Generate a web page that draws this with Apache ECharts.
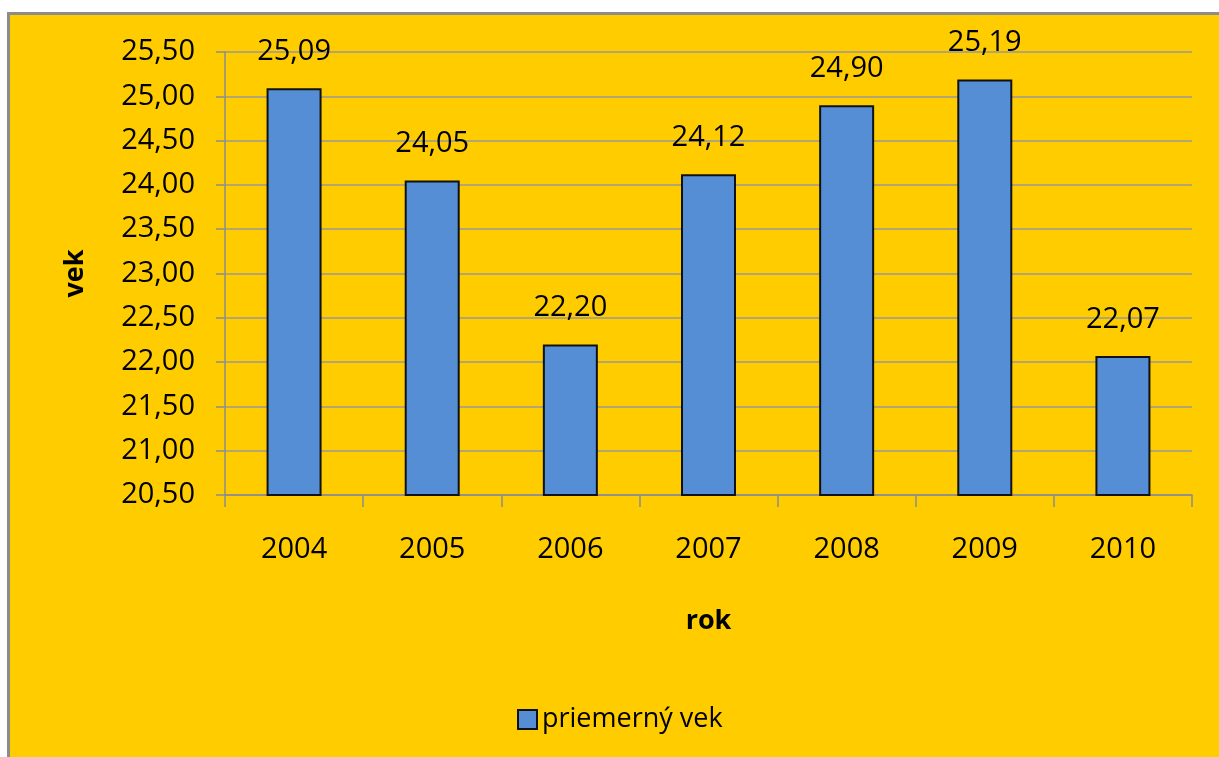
<!DOCTYPE html>
<html>
<head>
<meta charset="utf-8">
<script src="https://cdn.jsdelivr.net/npm/echarts@6/dist/echarts.min.js"></script>
<style>
  html, body { margin: 0; padding: 0; background: #ffffff; }
  #main {
    position: absolute; left: 7px; top: 12px;
    width: 1212px; height: 745px;
    box-sizing: border-box;
    background: #FFCC00;
    border-left: 3px solid #8c8c8c;
    border-top: 3px solid #8c8c8c;
  }
</style>
</head>
<body>
<div id="main"></div>
<script>
// data
var years = ['2004', '2005', '2006', '2007', '2008', '2009', '2010'];
var avgAge = [25.09, 24.05, 22.20, 24.12, 24.90, 25.19, 22.07];
var seriesName = 'priemerný vek';

var FONT = '"Open Sans", sans-serif';
var FS = 29;
function comma(v) { return Number(v).toFixed(2).replace('.', ','); }

var chartDom = document.getElementById('main');
var myChart = echarts.init(chartDom);
var option = {
  backgroundColor: 'transparent',
  textStyle: { fontFamily: FONT, color: '#000' },
  grid: { left: 215, right: 27, top: 37, bottom: 262 },
  legend: {
    data: [seriesName],
    icon: 'rect',
    left: 502, top: 686,
    itemWidth: 19, itemHeight: 19,
    itemGap: 8,
    textStyle: { fontFamily: FONT, fontSize: 27, color: '#000' }
  },
  xAxis: {
    type: 'category',
    data: years,
    name: 'rok',
    nameLocation: 'middle',
    nameGap: 113,
    nameTextStyle: { fontFamily: FONT, fontSize: 27, fontWeight: 'bold', color: '#000' },
    axisLine: { lineStyle: { color: '#8c8c8c', width: 1.5 } },
    axisTick: { show: true, length: 12, lineStyle: { color: '#8c8c8c', width: 1.5 } },
    axisLabel: { margin: 40, fontFamily: FONT, fontSize: FS, color: '#000' }
  },
  yAxis: {
    type: 'value',
    min: 20.5,
    max: 25.5,
    interval: 0.5,
    name: 'vek',
    nameLocation: 'middle',
    nameGap: 136,
    nameRotate: 90,
    nameTextStyle: { fontFamily: FONT, fontSize: 27, fontWeight: 'bold', color: '#000' },
    axisLine: { show: true, lineStyle: { color: '#8c8c8c', width: 1.5 } },
    axisTick: { show: true, length: 9, lineStyle: { color: '#8c8c8c', width: 1.5 } },
    splitLine: { lineStyle: { color: '#999999', width: 1.5 } },
    axisLabel: {
      margin: 30, fontFamily: FONT, fontSize: FS, color: '#000',
      formatter: comma
    }
  },
  series: [
    {
      name: seriesName,
      type: 'bar',
      data: avgAge,
      barWidth: 55,
      itemStyle: { color: '#558ED5', borderColor: '#111111', borderWidth: 2 },
      label: {
        show: true, position: 'top', distance: 22,
        fontFamily: FONT, fontSize: FS, color: '#000',
        formatter: function (p) { return comma(p.value); }
      }
    }
  ]
};

myChart.setOption(option);
window.addEventListener('resize', function () { myChart.resize(); });
</script>
</body>
</html>
